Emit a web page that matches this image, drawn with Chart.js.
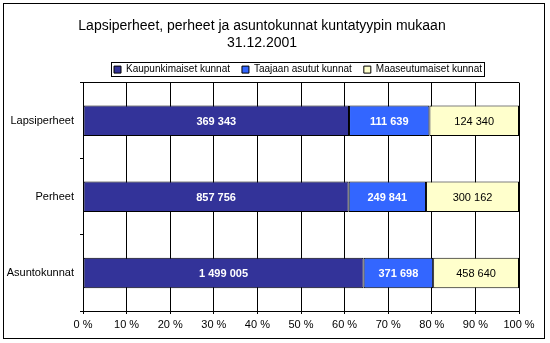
<!DOCTYPE html>
<html>
<head>
<meta charset="utf-8">
<script src="https://cdn.jsdelivr.net/npm/chart.js@4/dist/chart.umd.min.js"></script>
<style>
  html, body { margin: 0; padding: 0; background: #fff; }
</style>
</head>
<body>
<canvas id="kuntatyyppi" width="550" height="343"></canvas>
<script>
const categories = ['Lapsiperheet', 'Perheet', 'Asuntokunnat'];
const seriesNames = ['Kaupunkimaiset kunnat', 'Taajaan asutut kunnat', 'Maaseutumaiset kunnat'];
const kaupunkimaiset = [369343, 857756, 1499005];
const taajaanAsutut = [111639, 249841, 371698];
const maaseutumaiset = [124340, 300162, 458640];
const titleLines = ['Lapsiperheet, perheet ja asuntokunnat kuntatyypin mukaan', '31.12.2001'];

const FONT = "'Liberation Sans', Arial, sans-serif";

// bars show each type's share of the category total
const totals = categories.map((c, i) => kaupunkimaiset[i] + taajaanAsutut[i] + maaseutumaiset[i]);
const toPercent = arr => arr.map((v, i) => v / totals[i] * 100);
const fmt = v => String(v).replace(/\B(?=(\d{3})+(?!\d))/g, ' ');

const makeSet = (name, values, fill, textColor, bold) => ({
  label: name,
  data: toPercent(values),
  raw: values,
  backgroundColor: fill,
  borderColor: '#000',
  borderWidth: 1,
  borderSkipped: false,
  categoryPercentage: 0.8,
  barPercentage: 0.5,
  textColor: textColor,
  bold: bold
});

// legend sits a bit right of centre, title a touch lower
const nudgePlugin = {
  id: 'nudge',
  afterLayout(chart) {
    const lg = chart.legend;
    lg.left += 36; lg.right += 36;
    lg.top += 2; lg.bottom += 2;
    const tb = chart.titleBlock;
    tb.top += 1; tb.bottom += 1;
  }
};

// white background, outer frame and the box round the legend
const framePlugin = {
  id: 'frame',
  beforeDraw(chart) {
    const ctx = chart.ctx;
    ctx.save();
    ctx.fillStyle = '#fff';
    ctx.fillRect(0, 0, chart.width, chart.height);
    ctx.restore();
  },
  afterDraw(chart) {
    const ctx = chart.ctx;
    ctx.save();
    ctx.strokeStyle = '#000';
    ctx.lineWidth = 1;
    ctx.strokeRect(3.5, 3.5, 541, 335);
    const hb = chart.legend.legendHitBoxes;
    if (hb && hb.length) {
      const l = Math.min(...hb.map(h => h.left));
      const r = Math.max(...hb.map(h => h.left + h.width));
      const t = hb[0].top;
      const b = t + hb[0].height;
      ctx.strokeRect(Math.round(l) - 2.5, Math.round(t) - 2.5, Math.round(r - l) + 5, Math.round(b - t) + 4);
    }
    ctx.restore();
  }
};

// value labels in the middle of each segment
const valuePlugin = {
  id: 'values',
  afterDatasetsDraw(chart) {
    const ctx = chart.ctx;
    ctx.save();
    ctx.textAlign = 'center';
    ctx.textBaseline = 'middle';
    chart.data.datasets.forEach((ds, di) => {
      const meta = chart.getDatasetMeta(di);
      ctx.fillStyle = ds.textColor;
      ctx.font = (ds.bold ? 'bold ' : '') + '11px ' + FONT;
      meta.data.forEach((bar, i) => {
        const x = (bar.x + bar.base) / 2;
        ctx.fillText(fmt(ds.raw[i]), x, bar.y + 1);
      });
    });
    ctx.restore();
  }
};

new Chart(document.getElementById('kuntatyyppi'), {
  type: 'bar',
  data: {
    labels: categories,
    datasets: [
      makeSet(seriesNames[0], kaupunkimaiset, '#333399', '#fff', true),
      makeSet(seriesNames[1], taajaanAsutut, '#3366FF', '#fff', true),
      makeSet(seriesNames[2], maaseutumaiset, '#FFFFCC', '#000', false)
    ]
  },
  options: {
    indexAxis: 'y',
    responsive: false,
    animation: false,
    layout: { padding: { left: 5, right: 31, top: 6, bottom: 4 } },
    plugins: {
      title: {
        display: true,
        text: titleLines,
        color: '#000',
        font: { family: FONT, size: 14, weight: 'normal', lineHeight: 1.2 },
        padding: { top: 11, bottom: 0 }
      },
      legend: {
        labels: {
          boxWidth: 7,
          boxHeight: 7,
          color: '#000',
          font: { family: FONT, size: 10 },
          padding: 12
        }
      },
      tooltip: { enabled: false }
    },
    scales: {
      x: {
        stacked: true,
        min: 0,
        max: 100,
        ticks: {
          stepSize: 10,
          callback: v => v + ' %',
          color: '#000',
          font: { family: FONT, size: 11 },
          padding: 4,
          maxRotation: 0,
          autoSkip: false
        },
        grid: { color: '#000', tickColor: '#000', tickLength: 3 },
        border: { color: '#000' },
        afterFit: s => { s.height = 28; }
      },
      y: {
        stacked: true,
        ticks: { color: '#000', font: { family: FONT, size: 11 }, padding: 6 },
        grid: {
          offset: true,
          color: c => c.index === 0 ? '#000' : 'rgba(0,0,0,0)',
          tickColor: '#000',
          tickLength: 3
        },
        border: { color: '#000' },
        afterFit: s => { s.width = 78; }
      }
    }
  },
  plugins: [nudgePlugin, framePlugin, valuePlugin]
});
</script>
</body>
</html>
